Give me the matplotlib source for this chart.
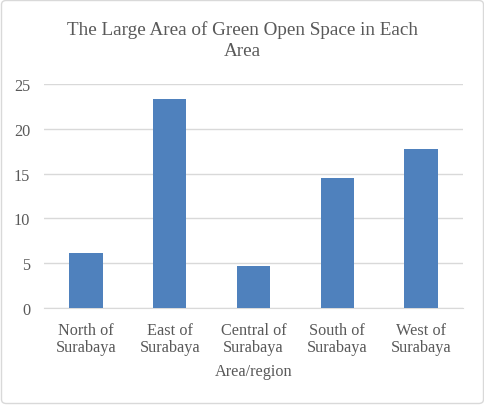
import matplotlib.pyplot as plt
from matplotlib.patches import FancyBboxPatch

# data
areas = ['North of\nSurabaya', 'East of\nSurabaya', 'Central of\nSurabaya',
         'South of\nSurabaya', 'West of\nSurabaya']
sizes = [6.1, 23.3, 4.7, 14.5, 17.7]
yticks = [0, 5, 10, 15, 20, 25]

plt.rcParams['font.family'] = ['Liberation Serif', 'DejaVu Serif']
txt = '#595959'

W, H = 485, 406
fig = plt.figure(figsize=(W / 100, H / 100), dpi=100)

# outer chart border
fig.patches.append(FancyBboxPatch((1.5 / W, 1.5 / H), (W - 3) / W, (H - 3) / H,
                                  boxstyle='round,pad=0,rounding_size=0.01',
                                  transform=fig.transFigure, fill=False,
                                  edgecolor='#d9d9d9', linewidth=1))

ax = fig.add_axes([44 / W, (H - 309) / H, (463 - 44) / W, (309 - 85) / H])
x = range(len(areas))
ax.bar(x, sizes, width=0.4, color='#4f81bd', zorder=3)

ax.set_xlim(-0.5, len(areas) - 0.5)
ax.set_ylim(0, 25)
ax.set_yticks(yticks)
ax.set_xticks(list(x))
ax.set_xticklabels(areas)
ax.grid(axis='y', color='#d9d9d9', linewidth=1, zorder=0)
for s in ['top', 'right', 'left']:
    ax.spines[s].set_visible(False)
ax.spines['bottom'].set_color('#d9d9d9')
ax.tick_params(length=0, labelsize=11.7, colors=txt)
ax.tick_params(axis='y', pad=10)
ax.tick_params(axis='x', pad=10)
for lab in ax.get_xticklabels():
    lab.set_linespacing(1.08)

ax.set_xlabel('Area/region', fontsize=11.7, color=txt, labelpad=6)
fig.text(0.5, (H - 21) / H, 'The Large Area of Green Open Space in Each\nArea',
         ha='center', va='top', fontsize=13.75, color=txt, linespacing=1.32)

fig.savefig('out.png', dpi=100)
